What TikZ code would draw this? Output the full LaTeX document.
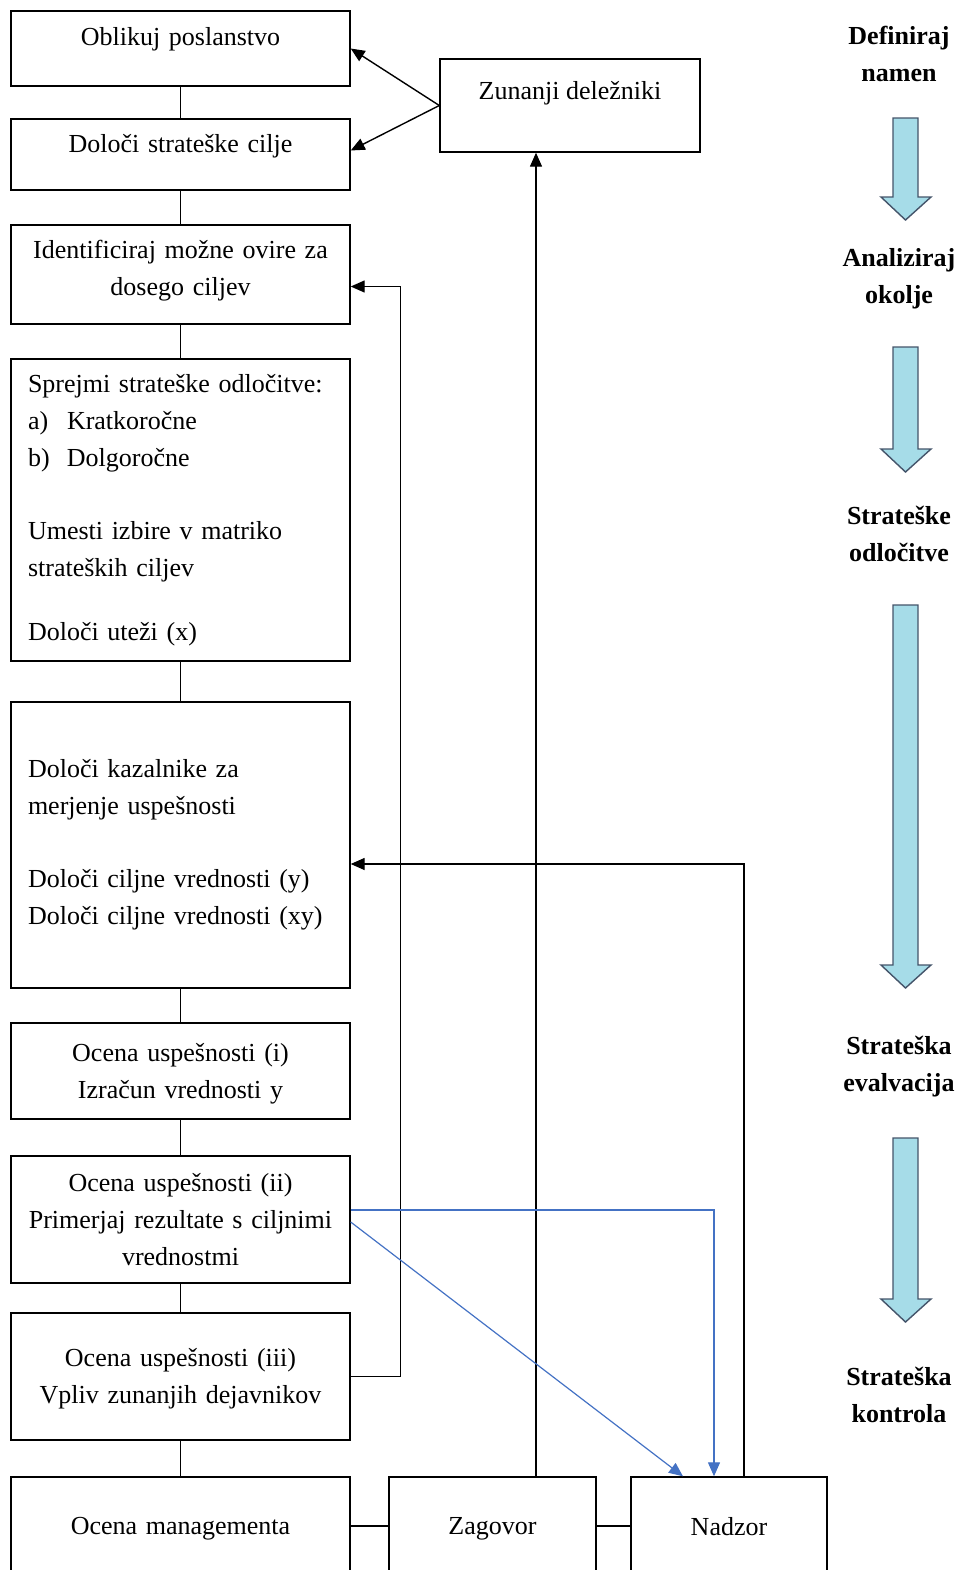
\documentclass[tikz,border=0pt]{standalone}
\usepackage{fontspec}
\setmainfont{Liberation Serif}
\usetikzlibrary{arrows.meta}
\definecolor{linkblue}{RGB}{68,114,196}
\definecolor{phasefill}{RGB}{166,220,232}
\definecolor{phaseline}{RGB}{68,84,106}
\tikzstyle{stepbox} = [rectangle, draw=black, line width=0.7pt, minimum width=169.5pt, text width=159.5pt, inner xsep=5pt, align=center]
\tikzstyle{listbox} = [stepbox, text width=152.5pt, inner xsep=8.5pt, align=left]
\tikzstyle{sidebox} = [rectangle, draw=black, line width=0.7pt, align=center]
\tikzstyle{phase} = [font=\fontsize{13}{18.5}\selectfont\bfseries, align=center]
\tikzstyle{line} = [line width=0.7pt]
\tikzstyle{arrow} = [line width=0.7pt, -{Triangle[length=7pt,width=6pt]}]
\tikzstyle{bluearrow} = [line width=0.6pt, linkblue, -{Triangle[length=7pt,width=6pt]}]
\tikzstyle{bigarrow} = [fill=phasefill, draw=phaseline, line width=0.7pt]
\newcommand{\phasearrow}[2]{\draw[bigarrow] (893,#1) -- (918,#1) -- (918,#2-23) -- (931,#2-23) -- (905.5,#2) -- (881,#2-23) -- (893,#2-23) -- cycle;}

\begin{document}
\begin{tikzpicture}[x=0.5pt, y=-0.5pt, every node/.style={font=\fontsize{13}{18.5}\selectfont}]
    \clip (0,0) rectangle (959,1570);

    % left column
    \node (poslanstvo) [stepbox, minimum height=37.5pt, text depth=12.5pt] at (180.5,48.5) {Oblikuj poslanstvo};
    \node (cilji) [stepbox, minimum height=35.5pt, text depth=11.5pt] at (180.5,154.5) {Določi strateške cilje};
    \node (ovire) [stepbox, minimum height=49.5pt, text depth=25.5pt] at (180.5,274.5) {Identificiraj možne ovire za\\dosego ciljev};
    \node (odlocitve) [listbox, minimum height=151pt] at (180.5,510) {Sprejmi strateške odločitve:\\
        \makebox[19.5pt][l]{a)}Kratkoročne\\
        \makebox[19.5pt][l]{b)}Dolgoročne\\[18pt]
        Umesti izbire v matriko\\
        strateških ciljev\\[13.5pt]
        Določi uteži (x)};
    \node (kazalniki) [listbox, minimum height=143pt] at (180.5,845) {Določi kazalnike za\\merjenje uspešnosti\\[18pt]
        Določi ciljne vrednosti (y)\\Določi ciljne vrednosti (xy)};
    \node (ocenai) [stepbox, minimum height=48pt, text depth=18.3pt] at (180.5,1071) {Ocena uspešnosti (i)\\Izračun vrednosti y};
    \node (ocenaii) [stepbox, minimum height=63.5pt] at (180.5,1219.5) {Ocena uspešnosti (ii)\\Primerjaj rezultate s ciljnimi\\vrednostmi};
    \node (ocenaiii) [stepbox, minimum height=63.5pt, text depth=19.3pt] at (180.5,1376.5) {Ocena uspešnosti (iii)\\Vpliv zunanjih dejavnikov};
    \node (management) [stepbox, minimum height=49pt, text depth=0pt] at (180.5,1526) {Ocena managementa};

    % middle
    \node (delezniki) [sidebox, minimum width=130pt, minimum height=46.5pt, text depth=15.5pt] at (570,105.5) {Zunanji deležniki};
    \node (zagovor) [sidebox, minimum width=103.5pt, minimum height=49pt, text depth=0pt] at (492.5,1526) {Zagovor};
    \node (nadzor) [sidebox, minimum width=98pt, minimum height=49pt, text depth=0pt] at (729,1526) {Nadzor};

    % phases
    \node (namen) [phase] at (899,53.5) {Definiraj\\namen};
    \node (okolje) [phase] at (899,278.5) {Analiziraj\\okolje};
    \node (odlocanje) [phase] at (899,533.5) {Strateške\\odločitve};
    \node (evalvacija) [phase] at (899,1066.5) {Strateška\\evalvacija};
    \node (kontrola) [phase] at (899,1394.5) {Strateška\\kontrola};
    \phasearrow{118}{220}
    \phasearrow{347}{472}
    \phasearrow{605}{988}
    \phasearrow{1138}{1322}

    \draw [line] (poslanstvo) -- (cilji);
    \draw [line] (cilji) -- (ovire);
    \draw [line] (ovire) -- (odlocitve);
    \draw [line] (odlocitve) -- (kazalniki);
    \draw [line] (kazalniki) -- (ocenai);
    \draw [line] (ocenai) -- (ocenaii);
    \draw [line] (ocenaii) -- (ocenaiii);
    \draw [line] (ocenaiii) -- (management);
    \draw [line] (management) -- (zagovor);
    \draw [line] (zagovor) -- (nadzor);

    \draw [arrow] (delezniki.west) -- (poslanstvo.east);
    \draw [arrow] (delezniki.west) -- ([yshift=2pt]cilji.east);
    \draw [arrow] ([xshift=21.75pt]zagovor.north) -- ([xshift=21.75pt]zagovor.north |- delezniki.south);
    \draw [arrow] (ocenaiii.east) -- ++(50,0) |- ([yshift=-6pt]ovire.east);
    \draw [arrow] ([xshift=7.5pt]nadzor.north) |- ([yshift=-9.5pt]kazalniki.east);

    \draw [bluearrow] ([yshift=4.75pt]ocenaii.east) -| ([xshift=-7.5pt]nadzor.north);
    \draw [bluearrow] ([yshift=-1.25pt]ocenaii.east) -- ([xshift=-23pt]nadzor.north);
\end{tikzpicture}
\end{document}
